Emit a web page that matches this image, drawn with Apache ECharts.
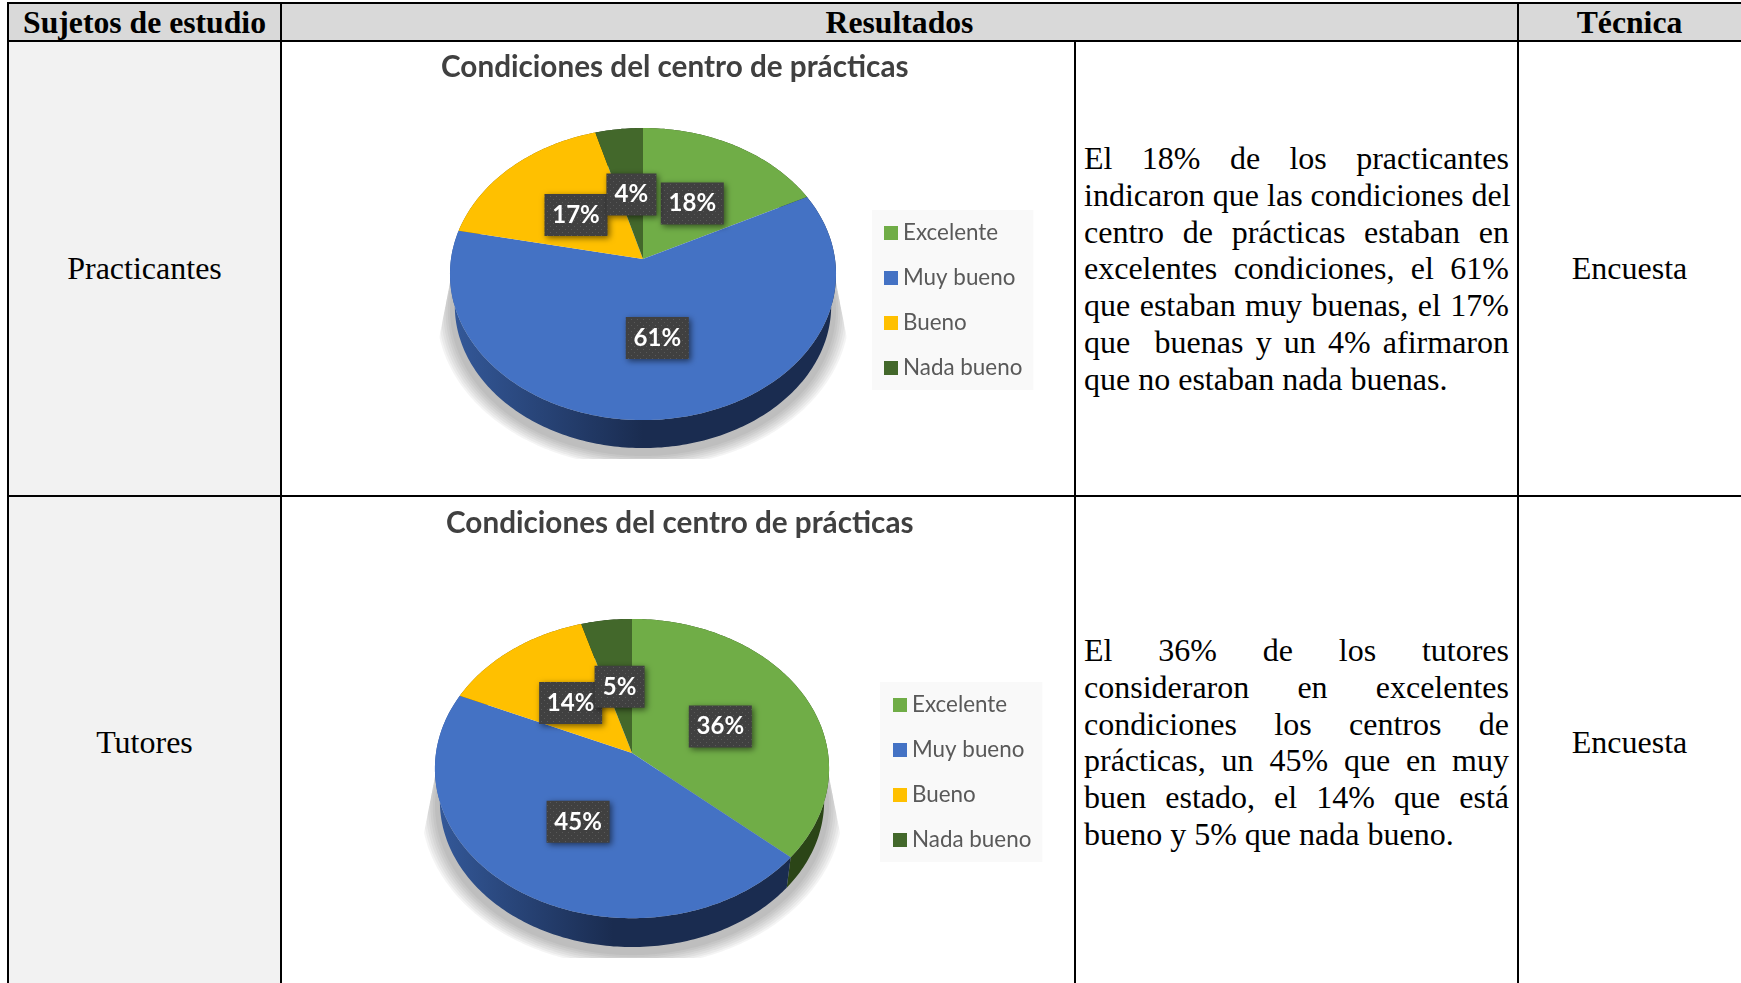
<!DOCTYPE html>
<html>
<head>
<meta charset="utf-8">
<script src="https://cdn.jsdelivr.net/npm/echarts@6/dist/echarts.min.js"></script>
<style>
  html, body { margin: 0; padding: 0; background: #fff; width: 1741px; height: 983px; overflow: hidden; }
  #tabla { position: absolute; left: 0; top: 0; width: 1741px; height: 983px; font-family: "Liberation Serif", serif; color: #000; }
  #tabla .celda { position: absolute; box-sizing: border-box; display: flex; align-items: center; justify-content: center; font-size: 32px; }
  #tabla .cab { background: #d9d9d9; font-weight: bold; font-size: 31.7px; padding-top: 1px; }
  #tabla .linea { position: absolute; background: #000; }
  #tabla .parrafo { position: absolute; left: 1084px; width: 425px; font-size: 32px; line-height: 36.8px; }
  #tabla .parrafo div { text-align: justify; text-align-last: justify; white-space: nowrap; }
  #tabla .parrafo div.fin { text-align-last: left; }
  #main { position: absolute; left: 0; top: 0; width: 1741px; height: 983px; }
</style>
</head>
<body>
<div id="tabla">
  <div class="celda cab" style="left:8px;top:3px;width:273px;height:38px">Sujetos de estudio</div>
  <div class="celda cab" style="left:281px;top:3px;width:1237px;height:38px">Resultados</div>
  <div class="celda cab" style="left:1518px;top:3px;width:223px;height:38px">Técnica</div>

  <div class="celda" style="left:8px;top:41px;width:273px;height:454px;background:#f2f2f2">Practicantes</div>
  <div class="celda" style="left:8px;top:496px;width:273px;height:487px;background:#f2f2f2;padding-top:6px">Tutores</div>
  <div class="celda" style="left:1518px;top:41px;width:223px;height:454px">Encuesta</div>
  <div class="celda" style="left:1518px;top:496px;width:223px;height:487px;padding-top:6px">Encuesta</div>

  <div class="parrafo" style="top:140px">
    <div>El 18% de los practicantes</div>
    <div>indicaron que las condiciones del</div>
    <div>centro de prácticas estaban en</div>
    <div>excelentes condiciones, el 61%</div>
    <div>que estaban muy buenas, el 17%</div>
    <div>que&nbsp; buenas y un 4% afirmaron</div>
    <div class="fin">que no estaban nada buenas.</div>
  </div>
  <div class="parrafo" style="top:632px">
    <div>El 36% de los tutores</div>
    <div>consideraron en excelentes</div>
    <div>condiciones los centros de</div>
    <div>prácticas, un 45% que en muy</div>
    <div>buen estado, el 14% que está</div>
    <div class="fin">bueno y 5% que nada bueno.</div>
  </div>

  <div class="linea" style="left:8px;top:2px;width:1733px;height:2px"></div>
  <div class="linea" style="left:8px;top:40px;width:1733px;height:2px"></div>
  <div class="linea" style="left:8px;top:495px;width:1733px;height:2px"></div>
  <div class="linea" style="left:7px;top:2px;width:2px;height:981px"></div>
  <div class="linea" style="left:280px;top:2px;width:2px;height:981px"></div>
  <div class="linea" style="left:1074px;top:41px;width:2px;height:942px"></div>
  <div class="linea" style="left:1517px;top:2px;width:2px;height:981px"></div>
</div>
<div id="main"></div>

<script>
// datos (las etiquetas muestran el valor redondeado)
const categorias = ['Excelente', 'Muy bueno', 'Bueno', 'Nada bueno']
const practicantes = [17.6, 60.6, 17.4, 4.4]
const tutores = [36.4, 45.2, 13.8, 4.6]
const tituloGrafico = 'Condiciones del centro de prácticas'

const coloresCara = ['#70ad47', '#4472c4', '#ffc000', '#43682b']
const coloresPared = ['#2b4517', '#1a2c50', '#7f6000', '#24371a']

// geometria de cada pastel (en perspectiva, k es la fuga)
const geometria = [
  { cx: 643, cy: 259, rx: 192, ry: 144.5, k: 0.103, baja: 32, corte: 459 },
  { cx: 632, cy: 753, rx: 196, ry: 148, k: 0.104, baja: 33, corte: 958 },
]
const valores = [practicantes, tutores]
const capasSombra = [1.0, 1.012, 1.024, 1.036, 1.048, 1.06, 1.07]

const chart = echarts.init(document.getElementById('main'), null, { renderer: 'canvas' })

// trama punteada de las etiquetas
const trama = document.createElement('canvas')
trama.width = 6
trama.height = 6
const ctx = trama.getContext('2d')
ctx.fillStyle = '#404040'
ctx.fillRect(0, 0, 6, 6)
ctx.fillStyle = '#595959'
ctx.fillRect(1, 1, 1, 1)
ctx.fillRect(4, 4, 1, 1)

// angulo en grados desde arriba, sentido horario
function proyectar(g, angulo, r, escala, baja) {
  const rad = (angulo * Math.PI) / 180
  const u = Math.sin(rad) * r
  const v = -Math.cos(rad) * r
  const w = 1 - g.k * v
  return [g.cx + (escala * g.rx * u) / w, g.cy + baja + (escala * g.ry * v) / w]
}

function arco(g, desde, hasta, escala, baja) {
  const puntos = []
  const pasos = Math.max(2, Math.ceil(hasta - desde))
  for (let i = 0; i <= pasos; i++) {
    puntos.push(proyectar(g, desde + ((hasta - desde) * i) / pasos, 1, escala, baja))
  }
  return puntos
}

function dibujarPorcion(params, api) {
  const nPastel = params.dataIndex
  const nCat = params.seriesIndex
  const g = geometria[nPastel]
  const lista = valores[nPastel]
  const total = lista.reduce((a, b) => a + b, 0)
  const previo = lista.slice(0, nCat).reduce((a, b) => a + b, 0)
  const valor = api.value(0)
  const desde = (previo / total) * 360
  const hasta = ((previo + valor) / total) * 360
  const medio = (desde + hasta) / 2

  const borde = arco(g, desde, hasta, 1, 0)
  const base = arco(g, desde, hasta, 0.975, g.baja)
  const centro = proyectar(g, 0, 0, 1, 0)
  const hijos = []

  // sombra una sola vez por pastel, por capas para que se difumine
  if (nCat === 0) {
    const cuna = [
      [g.cx - g.rx, g.cy + 18],
      [g.cx + g.rx, g.cy + 18],
      [g.cx + g.rx + 14, g.cy + 90],
      [g.cx + g.rx + 14, g.corte],
      [g.cx - g.rx - 14, g.corte],
      [g.cx - g.rx - 14, g.cy + 90],
    ]
    capasSombra.forEach((escala) => {
      hijos.push({
        type: 'polygon',
        z2: 0,
        shape: { points: arco(g, 0, 360, escala, g.baja + 4) },
        style: { fill: 'rgba(0,0,0,0.042)', shadowBlur: 4, shadowColor: 'rgba(0,0,0,0.04)' },
        clipPath: { type: 'polygon', shape: { points: cuna } },
      })
    })
  }

  hijos.push({
    type: 'polygon',
    z2: 1,
    shape: { points: borde.concat(base.slice().reverse()) },
    style: {
      fill: new echarts.graphic.LinearGradient(0, 0, 1, 0, [
        { offset: 0, color: nCat === 1 ? '#34599a' : coloresPared[nCat] },
        { offset: 0.5, color: coloresPared[nCat] },
        { offset: 1, color: coloresPared[nCat] },
      ]),
    },
  })
  hijos.push({
    type: 'polygon',
    z2: 2,
    shape: { points: [centro].concat(borde) },
    style: { fill: coloresCara[nCat] },
  })

  // etiqueta a media distancia del radio
  const pos = proyectar(g, medio, 0.5, 1, 0)
  pos[0] += 1
  pos[1] += 3.5
  const ancho = Math.round(valor) >= 10 ? 63 : 50
  hijos.push({
    type: 'rect',
    z2: 10 + nCat * 2,
    shape: { x: pos[0] - ancho / 2, y: pos[1] - 21, width: ancho, height: 42 },
    style: {
      fill: { image: trama, repeat: 'repeat' },
      shadowBlur: 6,
      shadowOffsetX: 2,
      shadowOffsetY: 2,
      shadowColor: 'rgba(0,0,0,0.55)',
    },
  })
  hijos.push({
    type: 'text',
    z2: 11 + nCat * 2,
    x: pos[0],
    y: pos[1],
    style: {
      text: Math.round(valor) + '%',
      fill: '#fff',
      font: 'bold 24px Lato',
      align: 'center',
      verticalAlign: 'middle',
    },
  })
  return { type: 'group', children: hijos }
}

const leyendaBase = {
  data: categorias,
  orient: 'vertical',
  icon: 'rect',
  itemWidth: 14,
  itemHeight: 14,
  itemGap: 23,
  selectedMode: false,
  backgroundColor: '#f9f9f9',
  textStyle: { fontFamily: 'Lato', fontSize: 22.4, color: '#595959', padding: [0, 0, 0, 0] },
}

const estiloTitulo = { fontFamily: 'Lato', fontWeight: 'bold', fontSize: 29.7, color: '#404040' }

const option = {
  animation: false,
  title: [
    { text: tituloGrafico, left: 441, top: 52, textStyle: estiloTitulo, padding: 0 },
    { text: tituloGrafico, left: 446, top: 508, textStyle: estiloTitulo, padding: 0 },
  ],
  legend: [
    { ...leyendaBase, left: 872, top: 210, padding: [12, 11, 11, 12] },
    { ...leyendaBase, left: 880, top: 682, padding: [12, 11, 11, 13] },
  ],
  series: categorias.map((nombre, i) => ({
    type: 'custom',
    name: nombre,
    coordinateSystem: 'none',
    silent: true,
    itemStyle: { color: coloresCara[i] },
    data: [practicantes[i], tutores[i]],
    renderItem: dibujarPorcion,
  })),
}

chart.setOption(option)
</script>
</body>
</html>
